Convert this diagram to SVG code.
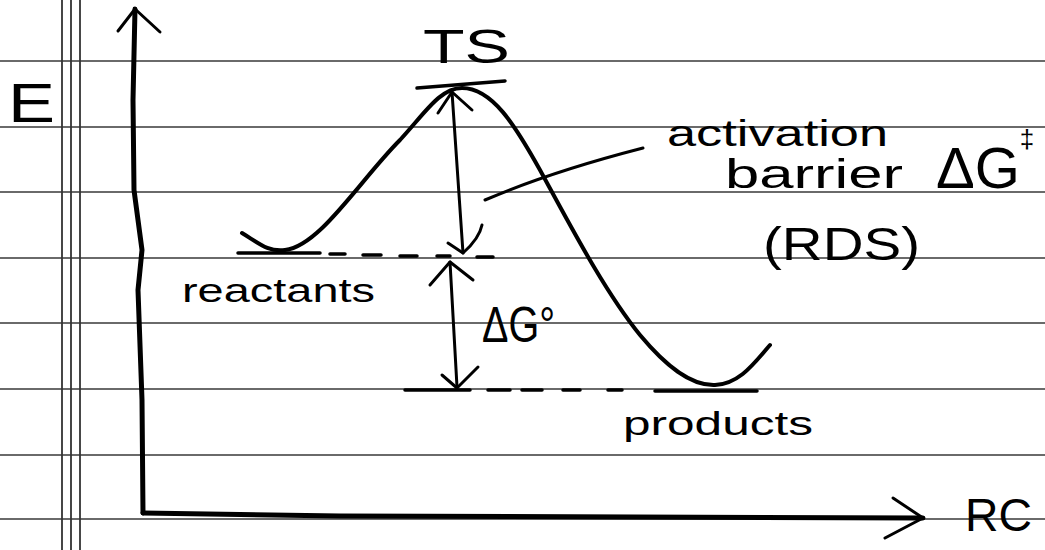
<svg xmlns="http://www.w3.org/2000/svg" width="1045" height="550" viewBox="0 0 1045 550">
<style>
.rule{stroke:#3a3a3a;stroke-width:1.4;fill:none}
.margin{stroke:#333;stroke-width:1.8;fill:none}
.ink{stroke:#000;fill:none;stroke-linecap:round;stroke-linejoin:round}
.axis{stroke-width:5}
.curve{stroke-width:4}
.arr{stroke-width:3}
.dash{stroke-width:3.5}
.t{font-family:"Liberation Sans",Arial,sans-serif;fill:#000}
</style>
<rect width="1045" height="550" fill="#fff"/>
<g id="paper">
<path class="rule" d="M0,61H1045M0,127H1045M0,192H1045M0,258H1045M0,323H1045M0,389H1045M0,455H1045M0,519H1045"/>
<path class="margin" d="M62,0V550M71,0V550M80,0V550"/>
</g>
<g id="axes">
<path class="ink axis" d="M143,513 L142,400 L138,290 L142,250 L134,190 L133,100 L135,9"/>
<path class="ink arr" d="M118,31 L135,9 L160,32"/>
<path class="ink axis" d="M143,513 L340,516 L923,518"/>
<path class="ink arr" d="M893,498 L923,518 L885,538"/>
</g>
<g id="energy-curve">
<path class="ink curve" d="M242,233 C260,244 268,252 285,250 C320,246 360,180 400,140 C425,113 440,88 462,88 C492,88 515,125 540,170 C570,225 605,292 640,335 C665,365 690,386 715,385 C740,384 755,362 770,345"/>
</g>
<g id="levels">
<path class="ink dash" d="M238,253H320M330,254H345M363,255H381M400,256H417M437,256H450M477,257H493"/>
<path class="ink dash" d="M405,390H470M488,390H510M522,390H542M563,390H580M608,390H622M655,391H757"/>
<path class="ink dash" d="M417,88L505,81"/>
</g>
<g id="connectors">
<path class="ink arr" d="M452,92 L463,253"/>
<path class="ink arr" d="M438,113 L452,92 L472,110"/>
<path class="ink arr" d="M448,243 L463,253 C472,245 480,235 482,225"/>
<path class="ink arr" d="M450,262 L457,387"/>
<path class="ink arr" d="M430,285 L450,262 L473,280"/>
<path class="ink arr" d="M442,375 L457,388 L478,367"/>
<path class="ink arr" d="M485,200 Q550,172 643,148"/>
</g>
<g id="label-E"><text class="t" x="8" y="122" font-size="55" textLength="47" lengthAdjust="spacingAndGlyphs">E</text></g>
<g id="label-TS"><text class="t" x="423" y="63" font-size="48" textLength="87" lengthAdjust="spacingAndGlyphs">TS</text></g>
<g id="label-activation">
<text class="t" x="667" y="146" font-size="36" textLength="221" lengthAdjust="spacingAndGlyphs">activation</text>
<text class="t" x="725" y="188" font-size="40" textLength="178" lengthAdjust="spacingAndGlyphs">barrier</text>
<text class="t" x="936" y="188" font-size="58">ΔG<tspan font-size="26" dy="-40">‡</tspan></text>
</g>
<g id="label-RDS"><text class="t" x="763" y="260" font-size="46" textLength="157" lengthAdjust="spacingAndGlyphs">(RDS)</text></g>
<g id="label-reactants"><text class="t" x="182" y="302" font-size="34" textLength="193" lengthAdjust="spacingAndGlyphs">reactants</text></g>
<g id="label-dG0"><text class="t" x="482" y="342" font-size="50" textLength="73" lengthAdjust="spacingAndGlyphs">ΔG°</text></g>
<g id="label-products"><text class="t" x="623" y="435" font-size="34" textLength="190" lengthAdjust="spacingAndGlyphs">products</text></g>
<g id="label-RC"><text class="t" x="965" y="531" font-size="46" textLength="67" lengthAdjust="spacingAndGlyphs">RC</text></g>
</svg>
